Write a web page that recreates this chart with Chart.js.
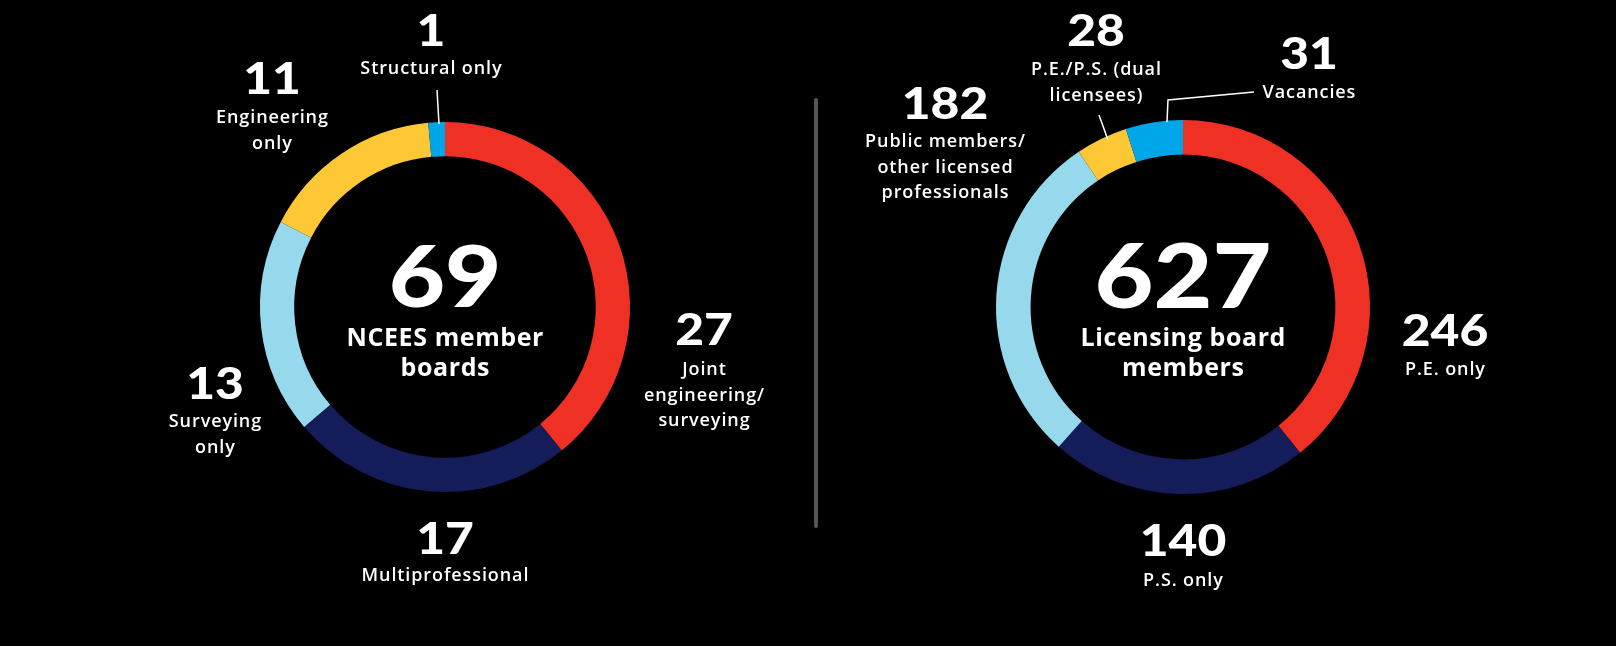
<!DOCTYPE html>
<html>
<head>
<meta charset="utf-8">
<script src="https://cdn.jsdelivr.net/npm/chart.js@4.4.1/dist/chart.umd.min.js"></script>
<style>
  html, body { margin: 0; padding: 0; background: #000; }
  #wrap { position: relative; width: 1616px; height: 646px; overflow: hidden; }
  #wrap canvas { position: absolute; left: 0; top: 0; }
  #divider { position: absolute; left: 814px; top: 98px; width: 4px; height: 430px; background: #555; border-radius: 2px; }
</style>
</head>
<body>
<div id="wrap">
  <canvas id="boardsChart" width="1616" height="646"></canvas>
  <div id="divider"></div>
  <canvas id="membersChart" width="1616" height="646"></canvas>
</div>
<script>
// Data
const boardCategories = ['Joint engineering/surveying', 'Multiprofessional', 'Surveying only', 'Engineering only', 'Structural only'];
const boardCounts = [27, 17, 13, 11, 1];
const boardLabelLines = [['Joint', 'engineering/', 'surveying'], ['Multiprofessional'], ['Surveying', 'only'], ['Engineering', 'only'], ['Structural only']];
const boardCenterLines = ['NCEES member', 'boards'];

const memberCategories = ['P.E. only', 'P.S. only', 'Public members/other licensed professionals', 'P.E./P.S. (dual licensees)', 'Vacancies'];
const memberCounts = [246, 140, 182, 28, 31];
const memberLabelLines = [['P.E. only'], ['P.S. only'], ['Public members/', 'other licensed', 'professionals'], ['P.E./P.S. (dual', 'licensees)'], ['Vacancies']];
const memberCenterLines = ['Licensing board', 'members'];

const sliceColors = ['#EE3124', '#141C5A', '#97D9EC', '#FDC735', '#00A6E8'];

// Label placement: [number x, number y, first text line y]
const boardLabelPos = [[704, 331, 370], [445, 540, 576], [215, 385, 422], [272, 80, 118], [431, 32, 69]];
const memberLabelPos = [[1445, 332, 370], [1183, 542, 581], [945, 105, 142], [1096, 32, 70], [1309, 55, 93]];
const boardLeaders = [[[437, 90], [439, 124]]];
const memberLeaders = [[[1099, 115], [1108, 140]], [[1254, 92], [1168, 100], [1167, 122]]];

const NUM_FONT = '"Lato", "DejaVu Sans", sans-serif';
const TXT_FONT = '"Open Sans", "Noto Sans", sans-serif';

// wide bold numbers, stretched a little like the original's geometric face
function drawNumber(ctx, text, x, y, size) {
    ctx.save();
    ctx.font = '900 ' + size + 'px ' + NUM_FONT;
    ctx.translate(x, y);
    ctx.scale(1.13, 1);
    ctx.fillText(text, 0, 0);
    ctx.restore();
}

function drawText(ctx, text, x, y, font, spacing) {
    ctx.font = font;
    ctx.letterSpacing = spacing + 'px';
    // letterSpacing adds trailing space too; nudge to stay centred
    ctx.fillText(text, x + spacing / 2, y);
    ctx.letterSpacing = '0px';
}

const labelPlugin = {
    id: 'sliceLabels',
    afterDraw(chart, args, opts) {
        const ctx = chart.ctx;
        const meta = chart.getDatasetMeta(0);
        const arc = meta.data[0];
        const cx = arc.x, cy = arc.y;
        const values = chart.data.datasets[0].data;
        const total = values.reduce((a, b) => a + b, 0);

        ctx.save();
        ctx.fillStyle = '#fff';
        ctx.textAlign = 'center';
        ctx.textBaseline = 'middle';

        // center total
        drawNumber(ctx, String(total), cx, cy - 28, opts.centerSize);
        opts.centerLines.forEach((line, i) =>
            drawText(ctx, line, cx, cy + 32 + i * 30, '700 25px ' + TXT_FONT, 0.6));

        // leader lines
        ctx.strokeStyle = '#fff';
        ctx.lineWidth = 1.5;
        opts.leaders.forEach(pts => {
            ctx.beginPath();
            pts.forEach((p, i) => i ? ctx.lineTo(p[0], p[1]) : ctx.moveTo(p[0], p[1]));
            ctx.stroke();
        });

        // slice labels
        values.forEach((v, i) => {
            const [x, ny, ty] = opts.positions[i];
            drawNumber(ctx, String(v), x, ny, 44);
            opts.lines[i].forEach((line, j) =>
                drawText(ctx, line, x, ty + j * 25.5, '600 18px ' + TXT_FONT, 0.9));
        });
        ctx.restore();
    }
};

function makeDonut(id, categories, counts, padding, cutout, extra) {
    const ctx = document.getElementById(id).getContext('2d');
    return new Chart(ctx, {
        type: 'doughnut',
        data: {
            labels: categories,
            datasets: [{
                data: counts,
                backgroundColor: sliceColors,
                borderWidth: 0
            }]
        },
        options: {
            responsive: false,
            animation: false,
            cutout: cutout,
            layout: { padding: padding },
            plugins: {
                legend: { display: false },
                tooltip: { enabled: false },
                sliceLabels: extra
            }
        },
        plugins: [labelPlugin]
    });
}

makeDonut('boardsChart', boardCategories, boardCounts,
    { left: 260, right: 986, top: 122, bottom: 154 }, '81.5%',
    { centerSize: 86, centerLines: boardCenterLines, positions: boardLabelPos, lines: boardLabelLines, leaders: boardLeaders });

makeDonut('membersChart', memberCategories, memberCounts,
    { left: 996, right: 246, top: 120, bottom: 152 }, '81.5%',
    { centerSize: 90, centerLines: memberCenterLines, positions: memberLabelPos, lines: memberLabelLines, leaders: memberLeaders });
</script>
</body>
</html>
